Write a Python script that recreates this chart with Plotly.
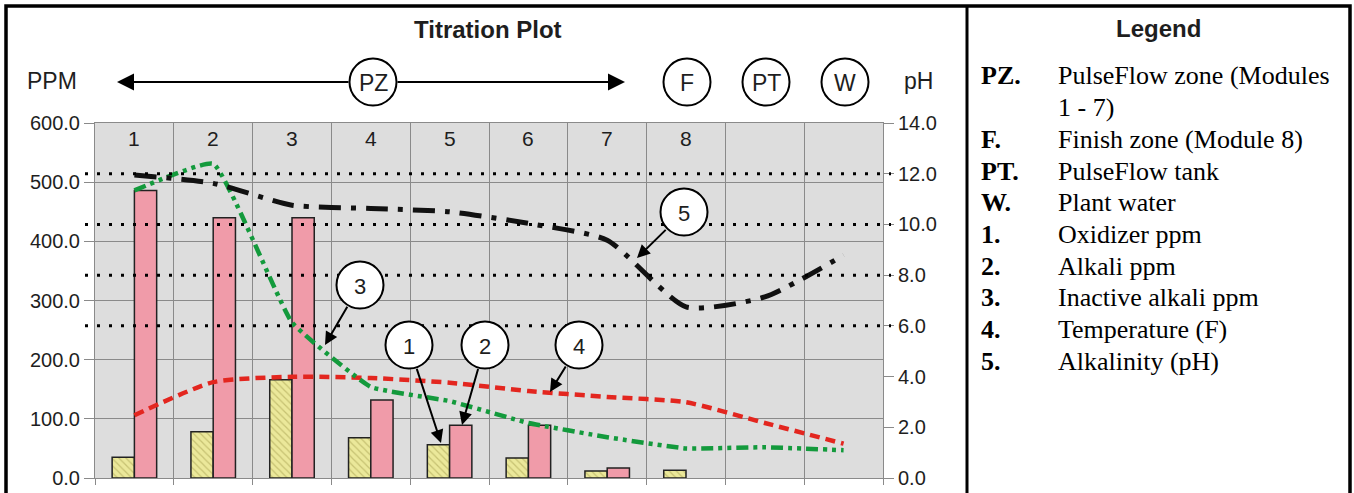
import plotly.graph_objects as go

# ---------------- data ----------------
columns = [1, 2, 3, 4, 5, 6, 7, 8, 9, 10]
column_labels = ["1", "2", "3", "4", "5", "6", "7", "8", "", ""]
oxidizer_ppm = [35, 78, 166, 68, 56, 34, 12, 13, None, None]
alkali_ppm = [486, 440, 440, 132, 89, 89, 17, None, None, None]
inactive_alkali_ppm = [486, 531, 263, 154, 130, 93, 69, 50, 52, 47]
temperature_f = [106, 162, 171, 169, 161, 147, 137, 128, 93, 58]
alkalinity_ph = [11.95, 11.62, 10.76, 10.63, 10.5, 10.04, 9.38, 6.75, 7.14, 8.79]
ppm_ticks = [0, 100, 200, 300, 400, 500, 600]
ph_ticks = [0, 2, 4, 6, 8, 10, 12, 14]
ph_reference = [6, 8, 10, 12]
zone_labels = ["F", "PT", "W"]
legend_keys = ["PZ.", "", "F.", "PT.", "W.", "1.", "2.", "3.", "4.", "5."]
legend_texts = ["PulseFlow zone (Modules", "1 - 7)", "Finish zone (Module 8)",
                "PulseFlow tank", "Plant water", "Oxidizer ppm", "Alkali ppm",
                "Inactive alkali ppm", "Temperature (F)", "Alkalinity (pH)"]

# ---------------- layout geometry ----------------
W, H = 1354, 493
ML, MR, MT, MB = 95, 471, 123, 15
PW, PH = W - ML - MR, H - MT - MB


def px(x):
    return (x - ML) / PW


def py(y):
    return (H - MB - y) / PH


SANS = "Liberation Sans, Arial, sans-serif"
SERIF = "Liberation Serif, Times New Roman, serif"
TXT = "#1e1e1e"
GRID = "#8a8a8a"

fig = go.Figure()

fig.add_trace(go.Bar(
    x=columns, y=oxidizer_ppm, name="Oxidizer ppm",
    marker=dict(color="#ebe89a", line=dict(color="#222", width=1.5),
                pattern=dict(shape="\\", fgcolor="#a39c4c", bgcolor="#ebe89a",
                             size=5, solidity=0.25)),
))
fig.add_trace(go.Bar(
    x=columns, y=alkali_ppm, name="Alkali ppm",
    marker=dict(color="#f09ba9", line=dict(color="#222", width=1.5)),
))
fig.add_trace(go.Scatter(
    x=columns, y=temperature_f, mode="lines", name="Temperature (F)",
    line=dict(color="#e3261f", width=4.5, dash="10px,6px", shape="spline", smoothing=0.6),
))
fig.add_trace(go.Scatter(
    x=columns, y=inactive_alkali_ppm, mode="lines", name="Inactive alkali ppm",
    line=dict(color="#139a3c", width=4.5, dash="12px,5px,4px,5px,4px,5px",
              shape="spline", smoothing=0.35),
))
fig.add_trace(go.Scatter(
    x=columns, y=alkalinity_ph, mode="lines", name="Alkalinity (pH)", yaxis="y2",
    line=dict(color="#111", width=5, dash="22px,10px,5px,10px", shape="spline", smoothing=0.6),
))

shapes = []
annotations = []

# dotted pH reference lines
for v in ph_reference:
    shapes.append(dict(type="line", xref="paper", yref="y2", x0=px(85), x1=px(891), y0=v, y1=v,
                       line=dict(color="black", width=3, dash="3px,9px"), layer="above"))

# outer frame and divider
shapes.append(dict(type="rect", xref="paper", yref="paper", x0=px(6), x1=px(1350),
                   y0=py(520), y1=py(6), line=dict(color="black", width=3.5), layer="above"))
shapes.append(dict(type="line", xref="paper", yref="paper", x0=px(967), x1=px(967),
                   y0=py(520), y1=py(6), line=dict(color="black", width=3), layer="above"))


def circle(cx, cy, r=23.5):
    return dict(type="circle", xref="paper", yref="paper", xsizemode="pixel", ysizemode="pixel",
                xanchor=px(cx), yanchor=py(cy), x0=-r, x1=r, y0=-r, y1=r,
                line=dict(color="black", width=2), fillcolor="white", layer="above")


def label(x, y, text, size=22, **kw):
    d = dict(x=px(x), y=py(y), xref="paper", yref="paper", text=text, showarrow=False,
             font=dict(family=SANS, size=size, color=TXT), xanchor="center", yanchor="middle")
    d.update(kw)
    return d


def arrow(tip, tail, size=1.4):
    return dict(x=px(tip[0]), y=py(tip[1]), xref="paper", yref="paper", text="",
                showarrow=True, arrowhead=2, arrowsize=size, arrowwidth=2, arrowcolor="black",
                ax=tail[0] - tip[0], ay=tail[1] - tip[1])


# header
annotations.append(label(488, 30, "<b>Titration Plot</b>", size=24))
annotations.append(label(25, 81, "PPM", size=23, xanchor="left"))
annotations.append(label(902, 81, "pH", size=23, xanchor="left"))
annotations.append(arrow((117, 82), (350, 82), size=1.7))
annotations.append(arrow((625, 82), (396, 82), size=1.7))
shapes.append(circle(373, 82))
annotations.append(label(373, 83, "PZ", size=23))
for lab, cx in zip(zone_labels, [687, 766, 845]):
    shapes.append(circle(cx, 82))
    annotations.append(label(cx, 83, lab, size=23))

# module numbers along the top of the plot
for c, t in zip(columns, column_labels):
    if t:
        annotations.append(dict(x=c, y=py(138), xref="x", yref="paper", text=t, showarrow=False,
                                font=dict(family=SANS, size=21, color=TXT),
                                xanchor="center", yanchor="middle"))

# callouts
callouts = [("3", (360, 285), (325, 345)), ("1", (409, 345), (441, 443)),
            ("2", (485, 345), (462, 425)), ("4", (579, 345), (550, 392)),
            ("5", (684, 212), (637, 258))]
for num, (cx, cy), (tx, ty) in callouts:
    dx, dy = tx - cx, ty - cy
    d = (dx * dx + dy * dy) ** 0.5
    ex, ey = cx + dx / d * 23.5, cy + dy / d * 23.5
    annotations.append(arrow((tx, ty), (ex, ey), size=1.3))
    shapes.append(circle(cx, cy))
    annotations.append(label(cx, cy + 1, num, size=22))

# legend panel
annotations.append(label(1158, 29, "<b>Legend</b>", size=24))
for i, (k, t) in enumerate(zip(legend_keys, legend_texts)):
    yy = 76 + i * 31.7
    if k:
        annotations.append(dict(x=px(979), y=py(yy), xref="paper", yref="paper", text=f"<b>{k}</b>",
                                showarrow=False, font=dict(family=SERIF, size=26, color="black"),
                                xanchor="left", yanchor="middle"))
    annotations.append(dict(x=px(1056), y=py(yy), xref="paper", yref="paper", text=t,
                            showarrow=False, font=dict(family=SERIF, size=26, color="black"),
                            xanchor="left", yanchor="middle"))

fig.update_layout(
    width=W, height=H, margin=dict(l=ML, r=MR, t=MT, b=MB, pad=0, autoexpand=False),
    paper_bgcolor="white", plot_bgcolor="#dddddd",
    showlegend=False, barmode="group", bargap=0.435, bargroupgap=0,
    shapes=shapes, annotations=annotations,
    xaxis=dict(range=[0.5, 10.5], tickmode="array", automargin=False,
               tickvals=[c - 0.5 for c in columns] + [columns[-1] + 0.5],
               showticklabels=False, showgrid=True, gridcolor=GRID, gridwidth=1,
               ticks="outside", ticklen=6, tickcolor=GRID, zeroline=False,
               showline=True, mirror=True, linecolor=GRID, linewidth=1),
    yaxis=dict(range=[0, 600], tickmode="array", tickvals=ppm_ticks, automargin=False,
               ticktext=[f"{v:.1f}" for v in ppm_ticks],
               showgrid=True, gridcolor=GRID, gridwidth=1, ticks="outside", ticklen=10,
               tickcolor=GRID, zeroline=False, showline=True, mirror=True, linecolor=GRID,
               tickfont=dict(family=SANS, size=20, color=TXT)),
    yaxis2=dict(range=[0, 14], overlaying="y", side="right", tickmode="array", tickvals=ph_ticks,
                automargin=False,
                ticktext=[f"{v:.1f}" for v in ph_ticks], showgrid=False, ticks="outside",
                ticklen=10, tickcolor=GRID, zeroline=False, showline=False,
                tickfont=dict(family=SANS, size=20, color=TXT)),
)

fig.write_html("out.html", config={"displayModeBar": False},
               post_script="document.body.style.margin='0';document.body.style.padding='0';"
                           "document.body.style.overflow='hidden';")
